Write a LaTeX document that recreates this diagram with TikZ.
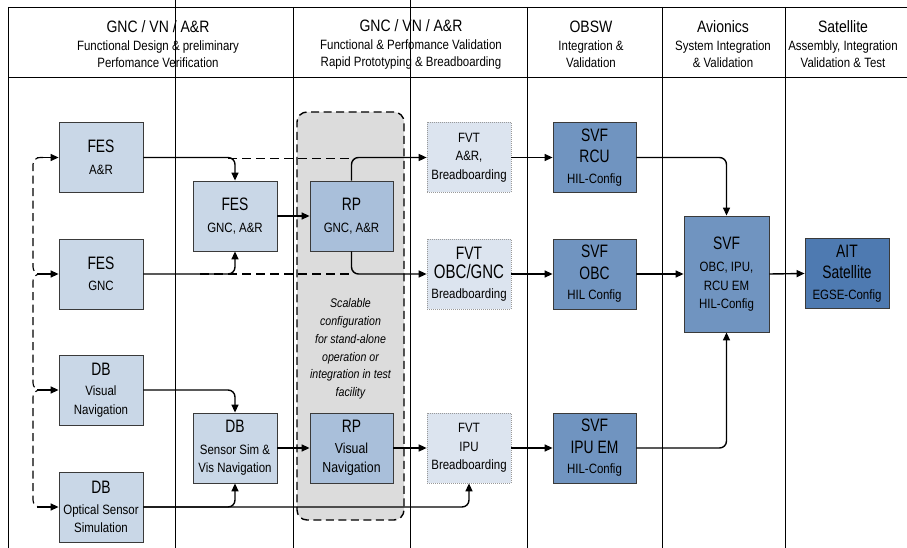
\documentclass[tikz,border=0pt]{standalone}
\usepackage{fontspec}
\setmainfont{Liberation Sans}[FakeStretch=0.85]
\newfontfamily\tfont{Liberation Sans}[FakeStretch=0.77]
\usetikzlibrary{arrows.meta,calc}
\definecolor{fesfill}{HTML}{C9D7E7}
\definecolor{rpfill}{HTML}{A9BFDA}
\definecolor{fvtfill}{HTML}{DCE4EF}
\definecolor{svffill}{HTML}{7094C0}
\definecolor{aitfill}{HTML}{4E7AB1}
\definecolor{bordc}{HTML}{3A3A3A}
\definecolor{grayzone}{HTML}{DCDCDC}
\newcommand{\Hl}[1]{{\fontsize{16.5}{18.5}\selectfont #1}}
\newcommand{\Tl}[1]{{\tfont\fontsize{18}{18.5}\selectfont #1}}
\newcommand{\Tm}[1]{{\tfont\fontsize{19.5}{18.5}\selectfont #1}}
\begin{document}
\begin{tikzpicture}[x=1pt,y=-1pt,
  box/.style={draw=bordc, line width=0.8pt, minimum width=84pt, minimum height=70pt,
    inner sep=0pt, align=center, font=\fontsize{13.5}{18.5}\selectfont},
  fes/.style={box, fill=fesfill},
  rp/.style={box, fill=rpfill, minimum width=83pt},
  fvt/.style={box, fill=fvtfill, draw=gray!80, dash pattern=on 1pt off 1pt, line width=0.7pt},
  svf/.style={box, fill=svffill, minimum width=83pt},
  ait/.style={box, fill=aitfill},
  hdr/.style={align=center, inner sep=0pt, font=\fontsize{13.5}{17.5}\selectfont},
  grid/.style={line width=0.8pt, black},
  conn/.style={line width=1.4pt, -{Triangle[length=8pt,width=7pt]}, rounded corners=7pt},
  dl/.style={line width=1.7pt, dash pattern=on 9pt off 5pt},
  bus/.style={line width=1.1pt, dash pattern=on 8pt off 4.5pt, rounded corners=7pt},
  zone/.style={fill=grayzone, draw=black, line width=1.4pt, dash pattern=on 8pt off 4.5pt, rounded corners=10pt}
]
\useasboundingbox (0,0) rectangle (907,548);
% grid
\draw[grid] (8,7) -- (907,7);
\draw[grid] (8,77) -- (907,77);
\draw[grid] (8,7) -- (8,548);
\draw[grid] (175,0) -- (175,548);
\draw[grid] (293,7) -- (293,548);
\draw[grid] (410,0) -- (410,548);
\draw[grid] (527,7) -- (527,548);
\draw[grid] (662,7) -- (662,548);
\draw[grid] (785,7) -- (785,548);
% headers
\node[hdr] (h1) at (158,44.5) {\Hl{GNC / VN / A\&R}\\Functional Design \& preliminary\\Perfomance Verification};
\node[hdr] (h2) at (411,44.5) {\Hl{GNC / VN / A\&R}\\Functional \& Perfomance Validation\\Rapid Prototyping \& Breadboarding};
\node[hdr] (h3) at (591,44.5) {\Hl{OBSW}\\Integration \&\\Validation};
\node[hdr] (h4) at (723,44.5) {\Hl{Avionics}\\System Integration\\\& Validation};
\node[hdr] (h5) at (843,44.5) {\Hl{Satellite}\\Assembly, Integration\\Validation \& Test};
% gray zone
\node[zone, minimum width=107pt, minimum height=408pt, inner sep=0pt] (zone) at (350.5,316) {};
\node[align=center, inner sep=0pt, font=\fontsize{12.5}{17.8}\selectfont\itshape] (ztext) at (350.5,349)
  {Scalable\\configuration\\for stand-alone\\operation or\\integration in test\\facility};
% nodes
\node[fes] (FESAR) at (101,157.5) {\Tl{FES}\\[3pt]A\&R};
\node[fes] (FESGNC) at (101,274) {\Tl{FES}\\[3pt]GNC};
\node[fes] (FESGA) at (235,216) {\Tl{FES}\\[3pt]GNC, A\&R};
\node[rp] (RPGA) at (351.5,216) {\Tl{RP}\\[3pt]GNC, A\&R};
\node[fvt] (FVTAR) at (469,157.5) {FVT\\A\&R,\\Breadboarding};
\node[fvt] (FVTOG) at (469,274) {\Tl{FVT}\\[1pt]\Tm{OBC/GNC}\\[1pt]Breadboarding};
\node[svf] (SVFRCU) at (594.5,157.5) {\Tl{SVF}\\[3pt]\Tl{RCU}\\[2pt]HIL-Config};
\node[svf] (SVFOBC) at (594.5,274) {\Tl{SVF}\\[3pt]\Tl{OBC}\\[2pt]HIL Config};
\node[svf, minimum width=85pt, minimum height=116pt] (SVFBIG) at (726.5,274) {\Tl{SVF}\\[4pt]OBC, IPU,\\RCU EM\\HIL-Config};
\node[ait] (AIT) at (847,273.5) {\Tl{AIT}\\[3pt]\Tl{Satellite}\\[2pt]EGSE-Config};
\node[fes] (DBVN) at (101,390) {\Tl{DB}\\[2pt]Visual\\Navigation};
\node[fes] (DBOS) at (101,507) {\Tl{DB}\\[2pt]Optical Sensor\\Simulation};
\node[fes] (DBSS) at (235,448) {\Tl{DB}\\[3pt]Sensor Sim \&\\Vis Navigation};
\node[rp, font=\fontsize{14.5}{19}\selectfont] (RPVN) at (351.5,448) {\Tl{RP}\\[2pt]Visual\\Navigation};
\node[fvt] (FVTIPU) at (469,448) {FVT\\IPU\\Breadboarding};
\node[svf] (SVFIPU) at (594.5,448) {\Tl{SVF}\\[3pt]\Tl{IPU EM}\\[2pt]HIL-Config};
% dashed bypass lines
\coordinate (d1) at (228,158.5);
\coordinate (d2) at (200,274);
\draw[dl] (d1) -- (RPGA.north |- d1);
\draw[dl] (d2) -- (RPGA.south |- d2);
% connectors
\draw[conn] (FESAR.east) -| (FESGA.north);
\draw[conn] (FESGNC.east) -| (FESGA.south);
\draw[conn] (FESGA.east) -- (RPGA.west);
\draw[conn] (RPGA.north) |- (FVTAR.west);
\draw[conn] (RPGA.south) |- (FVTOG.west);
\draw[conn] (FVTAR.east) -- (SVFRCU.west);
\draw[conn] (FVTOG.east) -- (SVFOBC.west);
\draw[conn] (SVFRCU.east) -| (SVFBIG.north);
\draw[conn] (SVFOBC.east) -- (SVFBIG.west);
\draw[conn] (SVFIPU.east) -| (SVFBIG.south);
\draw[conn] (SVFBIG.east) -- (AIT.west);
\draw[conn] (DBVN.east) -| (DBSS.north);
\draw[conn] (DBOS.east) -| (DBSS.south);
\draw[conn] (DBOS.east) -| (FVTIPU.south);
\draw[conn] (DBSS.east) -- (RPVN.west);
\draw[conn] (RPVN.east) -- (FVTIPU.west);
\draw[conn] (FVTIPU.east) -- (SVFIPU.west);
% left dashed bus
\coordinate (bx) at (33,0);
\coordinate (cx) at (43,0);
\coordinate (ax) at (37,0);
\draw[bus] (FESAR.west -| cx) -- (FESAR.west -| bx) -- (FESGNC.west -| bx) -- (FESGNC.west -| cx);
\draw[bus] (FESGNC.west -| cx) -- (FESGNC.west -| bx) -- (DBVN.west -| bx) -- (DBVN.west -| cx);
\draw[bus] (DBVN.west -| cx) -- (DBVN.west -| bx) -- (DBOS.west -| bx) -- (DBOS.west -| cx);
\draw[conn] (FESAR.west -| ax) -- (FESAR.west);
\draw[conn] (FESGNC.west -| ax) -- (FESGNC.west);
\draw[conn] (DBVN.west -| ax) -- (DBVN.west);
\draw[conn] (DBOS.west -| ax) -- (DBOS.west);
\end{tikzpicture}
\end{document}
